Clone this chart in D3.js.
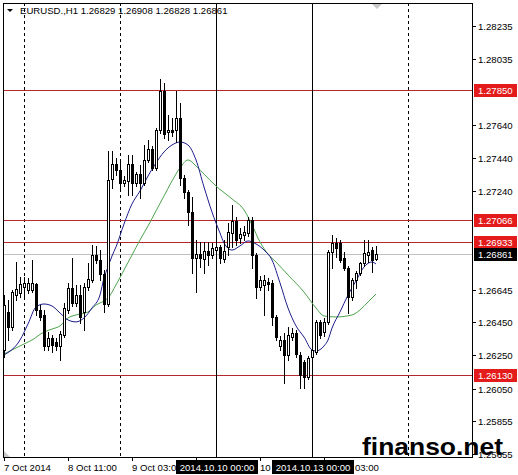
<!DOCTYPE html>
<html>
<head>
<meta charset="utf-8">
<title>EURUSD., H1</title>
<style>
  body { margin: 0; background: #fff; }
  svg text { font-family: "Liberation Sans", Arial, sans-serif; font-size: 9.6px; fill: #000; }
  .mark { font-weight: bold; }
</style>
</head>
<body>
<div id="chart"></div>
<script src="https://d3js.org/d3.v7.min.js"></script>
<script>
// hourly bars, 7 Oct 2014 19:00 -> 13 Oct 2014 16:00
var opens  = [1.26283,1.26512,1.26421,1.26614,1.26626,1.26663,1.26644,1.26644,1.26681,1.26524,
              1.26494,1.26307,1.26355,1.26331,1.26307,1.26373,1.26524,1.26657,1.26566,1.26614,
              1.26512,1.26663,1.26705,1.26855,1.26825,1.26741,1.26560,1.27313,1.27404,1.27368,
              1.27289,1.27301,1.27404,1.27289,1.27343,1.27289,1.27428,1.27494,1.27380,1.27609,
              1.27844,1.27597,1.27609,1.27609,1.27681,1.27319,1.27235,1.27114,1.26837,1.26861,
              1.26831,1.26879,1.26855,1.26885,1.26904,1.26831,1.26904,1.26988,1.27060,1.26958,
              1.26976,1.26988,1.27066,1.26855,1.26663,1.26675,1.26693,1.26687,1.26482,1.26307,
              1.26343,1.26253,1.26361,1.26385,1.26253,1.26211,1.26120,1.26241,1.26271,1.26452,
              1.26391,1.26452,1.26873,1.26928,1.26928,1.26837,1.26777,1.26602,1.26705,1.26747,
              1.26807,1.26855,1.26885,1.26829];
var highs  = [1.26614,1.26584,1.26644,1.26813,1.26723,1.26723,1.26717,1.26825,1.26687,1.26554,
              1.26524,1.26391,1.26373,1.26355,1.26397,1.26566,1.26687,1.26837,1.26675,1.26675,
              1.26687,1.26807,1.26916,1.26910,1.26885,1.26765,1.27482,1.27482,1.27440,1.27428,
              1.27331,1.27458,1.27458,1.27356,1.27398,1.27518,1.27548,1.27512,1.27621,1.27916,
              1.27892,1.27699,1.27681,1.27844,1.27771,1.27337,1.27247,1.27205,1.26946,1.26934,
              1.26934,1.26934,1.26928,1.26946,1.26916,1.26946,1.27048,1.27157,1.27084,1.27018,
              1.27030,1.27084,1.27084,1.26867,1.26729,1.26735,1.26717,1.26705,1.26494,1.26367,
              1.26385,1.26421,1.26415,1.26403,1.26271,1.26223,1.26247,1.26313,1.26464,1.26464,
              1.26476,1.26885,1.26976,1.26958,1.26946,1.26873,1.26789,1.26717,1.26759,1.26813,
              1.26946,1.26946,1.26904,1.26908];
var lows   = [1.26241,1.26343,1.26403,1.26584,1.26602,1.26596,1.26626,1.26632,1.26494,1.26464,
              1.26283,1.26283,1.26271,1.26283,1.26223,1.26361,1.26506,1.26548,1.26548,1.26446,
              1.26403,1.26644,1.26693,1.26807,1.26705,1.26512,1.26548,1.27259,1.27337,1.27259,
              1.27271,1.27217,1.27217,1.27271,1.27199,1.27277,1.27416,1.27368,1.27368,1.27591,
              1.27560,1.27548,1.27572,1.27536,1.27277,1.27199,1.27036,1.26747,1.26632,1.26783,
              1.26747,1.26795,1.26837,1.26849,1.26807,1.26813,1.26855,1.26904,1.26916,1.26928,
              1.26946,1.26970,1.26777,1.26596,1.26644,1.26494,1.26644,1.26434,1.26343,1.26283,
              1.26084,1.26223,1.26343,1.26241,1.26054,1.26054,1.26108,1.26223,1.26259,1.26355,
              1.26367,1.26440,1.26777,1.26843,1.26813,1.26765,1.26506,1.26584,1.26657,1.26735,
              1.26789,1.26813,1.26753,1.26828];
var closes = [1.26554,1.26421,1.26632,1.26650,1.26681,1.26687,1.26687,1.26687,1.26524,1.26482,
              1.26307,1.26355,1.26313,1.26307,1.26379,1.26536,1.26657,1.26566,1.26614,1.26482,
              1.26663,1.26711,1.26855,1.26825,1.26741,1.26560,1.27307,1.27404,1.27368,1.27289,
              1.27307,1.27404,1.27289,1.27343,1.27289,1.27428,1.27494,1.27380,1.27609,1.27844,
              1.27585,1.27609,1.27597,1.27681,1.27319,1.27235,1.27114,1.26837,1.26861,1.26837,
              1.26879,1.26855,1.26898,1.26904,1.26837,1.26879,1.26994,1.27060,1.26946,1.26982,
              1.26994,1.27066,1.26855,1.26663,1.26705,1.26705,1.26681,1.26482,1.26361,1.26343,
              1.26253,1.26373,1.26385,1.26259,1.26132,1.26120,1.26235,1.26283,1.26452,1.26373,
              1.26452,1.26873,1.26928,1.26898,1.26825,1.26777,1.26602,1.26705,1.26747,1.26807,
              1.26867,1.26873,1.26825,1.26861];

// moving averages at these bar numbers
var fastBars = [0,4,6,8,10,12,14,16,18,20,22,24,25,26,27,28,30,32,34,36,38,40,42,44,46,48,50,52,53,54,55,
                57,59,61,63,65,67,69,71,73,75,77,78,80,81,82,84,86,88,90,92,93];
var fastMA   = [1.26253,1.26343,1.26440,1.26542,1.26560,1.26548,1.26506,1.26464,1.26452,1.26476,1.26536,
                1.26614,1.26717,1.26783,1.26849,1.26904,1.27042,1.27163,1.27241,1.27331,1.27410,1.27476,
                1.27518,1.27536,1.27518,1.27428,1.27265,1.27114,1.27048,1.26988,1.26928,1.26885,1.26910,
                1.26940,1.26922,1.26885,1.26825,1.26687,1.26536,1.26428,1.26361,1.26283,1.26277,1.26307,
                1.26343,1.26415,1.26512,1.26614,1.26699,1.26783,1.26813,1.26801];
var slowBars = [0,2,5,7,10,12,14,16,18,21,23,25,26,28,30,32,34,36,38,40,42,44,46,48,50,53,57,60,62,64,66,
                68,71,75,78,80,83,87,89,91,93];
var slowMA   = [1.26259,1.26283,1.26319,1.26343,1.26391,1.26409,1.26428,1.26476,1.26494,1.26512,1.26554,
                1.26578,1.26596,1.26675,1.26765,1.26855,1.26946,1.27030,1.27121,1.27211,1.27301,1.27380,
                1.27428,1.27392,1.27343,1.27271,1.27193,1.27127,1.27036,1.26934,1.26861,1.26813,1.26735,
                1.26632,1.26536,1.26488,1.26482,1.26494,1.26524,1.26572,1.26620];

var priceTicks = [1.28235,1.28035,1.27640,1.27440,1.27240,1.26645,1.26450,
                  1.26250,1.26050,1.25855,1.25655];
var timeTickBars = [0,16,32,64,80];
var timeTickLabels = ["7 Oct 2014","8 Oct 11:00","9 Oct 03:00","10 Oct 11:00","13 Oct 03:00"];
var daySeparators = [5,29,53,77,101];
var vLineBars = [53,77];
var vLineLabels = ["2014.10.10 00:00","2014.10.13 00:00"];
var levels = [1.27850,1.27066,1.26933,1.26130];
var bid = 1.26861;
var title = "EURUSD.,H1  1.26829 1.26908 1.26828 1.26861";

var W = 518, H = 475;
var plotL = 3, plotR = 473, plotT = 3, plotB = 458;

var svg = d3.select('#chart').append('svg')
  .attr('width', W).attr('height', H);

var x = d3.scaleLinear().domain([0, 93]).range([4, 376]);
var y = d3.scaleLinear().domain([1.25855, 1.28235]).range([421, 26]);
var px = function(i) { return Math.round(x(i)); };
var py = function(v) { return Math.round(y(v)); };

var defs = svg.append('defs');
defs.append('clipPath').attr('id', 'plot')
  .append('rect').attr('x', plotL).attr('y', plotT)
  .attr('width', plotR - plotL).attr('height', plotB - plotT);

// time labels are hidden where the vertical line tags sit
var tagW = 82;
var timeClip = defs.append('clipPath').attr('id', 'timeclip');
var edges = [0].concat(vLineBars.map(function(d) { return px(d) - 40; }));
var ends = vLineBars.map(function(d) { return px(d) - 40; }).concat([W]);
edges.forEach(function(e, k) {
  var s = k === 0 ? 0 : e + tagW;
  timeClip.append('rect').attr('x', s).attr('y', plotB)
    .attr('width', Math.max(0, ends[k] - s)).attr('height', H - plotB);
});

var plot = svg.append('g').attr('clip-path', 'url(#plot)');

// period separators
plot.selectAll('.sep').data(daySeparators).enter().append('line')
  .attr('x1', function(d) { return px(d) + 0.5; })
  .attr('x2', function(d) { return px(d) + 0.5; })
  .attr('y1', plotT).attr('y2', plotB)
  .attr('stroke', '#000').attr('stroke-dasharray', '3,3');

// bid line
plot.append('line')
  .attr('x1', plotL).attr('x2', plotR)
  .attr('y1', py(bid) + 0.5).attr('y2', py(bid) + 0.5)
  .attr('stroke', '#c0c0c0');

// horizontal levels
plot.selectAll('.lvl').data(levels).enter().append('line')
  .attr('x1', plotL).attr('x2', plotR)
  .attr('y1', function(d) { return py(d) + 0.5; })
  .attr('y2', function(d) { return py(d) + 0.5; })
  .attr('stroke', '#b8262e');

// vertical lines
plot.selectAll('.vl').data(vLineBars).enter().append('line')
  .attr('x1', function(d) { return px(d) + 0.5; })
  .attr('x2', function(d) { return px(d) + 0.5; })
  .attr('y1', plotT).attr('y2', plotB)
  .attr('stroke', '#000');

// moving averages
var line = d3.line()
  .x(function(d) { return x(d[0]); })
  .y(function(d) { return y(d[1]); })
  .curve(d3.curveMonotoneX);
plot.append('path')
  .attr('d', line(d3.zip(slowBars, slowMA)))
  .attr('fill', 'none').attr('stroke', '#4ea54e');
plot.append('path')
  .attr('d', line(d3.zip(fastBars, fastMA)))
  .attr('fill', 'none').attr('stroke', '#1e1e8c');

// candles
var bars = d3.range(opens.length);
var candle = plot.selectAll('.c').data(bars).enter().append('g');
candle.append('line')
  .attr('x1', function(i) { return px(i) + 0.5; })
  .attr('x2', function(i) { return px(i) + 0.5; })
  .attr('y1', function(i) { return py(highs[i]); })
  .attr('y2', function(i) { return py(lows[i]) + 1; })
  .attr('stroke', '#000');
candle.append('rect')
  .attr('x', function(i) { return px(i) - 0.5; })
  .attr('width', 2)
  .attr('y', function(i) { return py(Math.max(opens[i], closes[i])) + 0.5; })
  .attr('height', function(i) { return Math.max(0, py(Math.min(opens[i], closes[i])) - py(Math.max(opens[i], closes[i]))); })
  .attr('fill', function(i) { return closes[i] >= opens[i] ? '#fff' : '#000'; })
  .attr('stroke', '#000');

// frame
svg.append('rect')
  .attr('x', plotL + 0.5).attr('y', plotT + 0.5)
  .attr('width', plotR - plotL - 1).attr('height', plotB - plotT - 1)
  .attr('fill', 'none').attr('stroke', '#000');

// corner markers
svg.append('path').attr('d', 'M372,4 L382,4 L377,9 Z').attr('fill', '#c8c8c8');
svg.append('path').attr('d', 'M4,451 L4,457 L10,457 Z').attr('fill', '#c8c8c8');

// title
svg.append('path').attr('d', 'M7,9 L13,9 L10,12 Z').attr('fill', '#000');
svg.append('text').attr('x', 20).attr('y', 14).text(title);

// price axis
var yAxis = svg.append('g');
yAxis.selectAll('line').data(priceTicks).enter().append('line')
  .attr('x1', plotR).attr('x2', plotR + 3)
  .attr('y1', function(d) { return py(d) + 0.5; })
  .attr('y2', function(d) { return py(d) + 0.5; })
  .attr('stroke', '#000');
yAxis.selectAll('text').data(priceTicks).enter().append('text')
  .attr('x', 478)
  .attr('y', function(d) { return py(d) + 4; })
  .text(function(d) { return d.toFixed(5); });

// price labels for the levels and bid
var tags = levels.map(function(v) { return { v: v, c: '#e31b1b' }; });
tags.push({ v: bid, c: '#000' });
var tag = svg.selectAll('.tag').data(tags).enter().append('g');
tag.append('rect')
  .attr('x', 474).attr('width', 43)
  .attr('y', function(d) { return py(d.v) - 6; })
  .attr('height', 13)
  .attr('fill', function(d) { return d.c; });
tag.append('text')
  .attr('x', 478)
  .attr('y', function(d) { return py(d.v) + 4; })
  .style('fill', '#fff')
  .text(function(d) { return d.v.toFixed(5); });

// time axis
var xAxis = svg.append('g');
xAxis.selectAll('line').data(timeTickBars.concat([48])).enter().append('line')
  .attr('x1', function(d) { return px(d) + 0.5; })
  .attr('x2', function(d) { return px(d) + 0.5; })
  .attr('y1', plotB).attr('y2', plotB + 3)
  .attr('stroke', '#000');
xAxis.append('g').attr('clip-path', 'url(#timeclip)')
  .selectAll('text').data(timeTickBars).enter().append('text')
  .attr('x', function(d) { return px(d); })
  .attr('y', 471)
  .text(function(d, i) { return timeTickLabels[i]; });

var vtag = svg.selectAll('.vtag').data(vLineBars).enter().append('g');
vtag.append('rect')
  .attr('x', function(d) { return px(d) - 40; })
  .attr('width', tagW).attr('y', 460).attr('height', 14)
  .attr('fill', '#000');
vtag.append('text')
  .attr('x', function(d) { return px(d) + 1; })
  .attr('y', 471)
  .attr('text-anchor', 'middle')
  .style('fill', '#fff')
  .text(function(d, i) { return vLineLabels[i]; });

// watermark
svg.append('text')
  .attr('class', 'mark')
  .attr('x', 362).attr('y', 455)
  .attr('textLength', 141).attr('lengthAdjust', 'spacingAndGlyphs')
  .style('font-size', '24px')
  .text('finanso.net');
</script>
</body>
</html>
